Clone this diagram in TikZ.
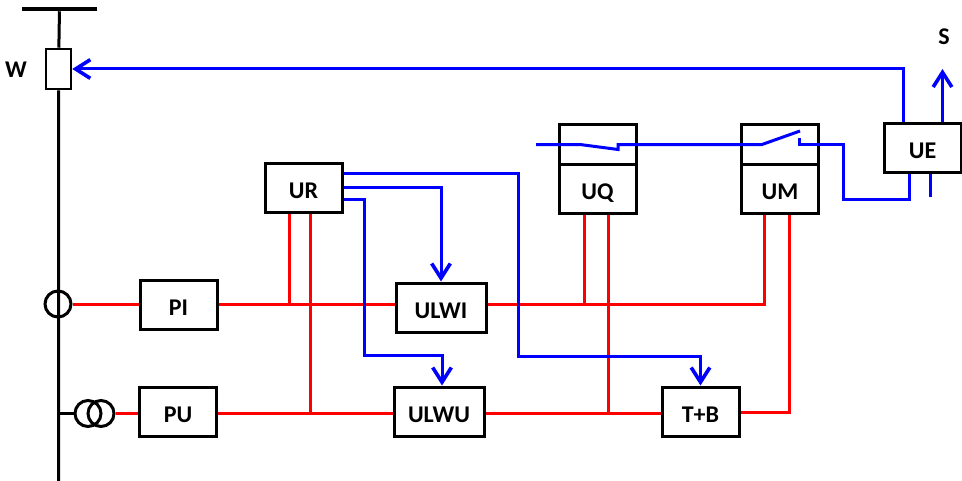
\documentclass[tikz,border=0pt]{standalone}
\usepackage{fontspec}
\setmainfont{Carlito}
\usetikzlibrary{arrows.meta,positioning}

\begin{document}
\begin{tikzpicture}[x=0.75pt, y=-0.75pt, font=\fontsize{18}{20}\selectfont\bfseries,
>={Straight Barb[length=11pt,width=14pt,line width=2.7pt]},
block/.style={draw, line width=2.25pt, minimum width=57.75pt, minimum height=36.75pt, inner sep=0pt, text height=16pt, text depth=0pt},
wideblock/.style={block, minimum width=67.5pt},
ring/.style={circle, draw, line width=2.25pt, minimum size=19.5pt, inner sep=0pt},
power/.style={line width=2.25pt},
meas/.style={line width=2.25pt, red, line join=miter},
ctrl/.style={line width=2.25pt, blue, line join=miter}]
  \useasboundingbox (0,0) rectangle (962,481);
  \node[fill, minimum width=56.25pt, minimum height=3pt, inner sep=0pt] (BUS) at (59.5,9) {};
  \node[draw, line width=1.9pt, minimum width=18.75pt, minimum height=30pt, inner sep=0pt] (W) at (58.5,69) {};
  \node (Wlabel) at (16,70) {W};
  \node[ring] (CT) at (58,304) {};
  \node[ring] (VT1) at (88,413.5) {};
  \node[ring] (VT2) at (101,413.5) {};
  \coordinate (END) at (58.5,481);
  \coordinate (TAP) at (58.5,413.5);
  \node[block] (PI) at (178.5,304.5) {PI};
  \node[block] (PU) at (178,412) {PU};
  \node[block] (UR) at (303.5,187.5) {UR};
  \node[wideblock] (ULWI) at (441,307.5) {ULWI};
  \node[wideblock] (ULWU) at (439,411.5) {ULWU};
  \node[block] (TB) at (700.5,411.5) {T+B};
  \node[block, minimum height=29.25pt] (UQs) at (597.5,144.5) {};
  \node[block] (UQ) at (597.5,188.5) {UQ};
  \node[block, minimum height=29.25pt] (UMs) at (780,144.5) {};
  \node[block] (UM) at (780,188.5) {UM};
  \node[block] (UE) at (922.5,148) {UE};
  \node (S) at (944,37) {S};
  % busbar and feeder
  \draw[power] (BUS) -- (W) -- (END);
  \draw[power, line width=1.8pt] (TAP) -- (VT1);
  % red circuits
  \coordinate (a1) at (289,304);
  \coordinate (a2) at (310,413);
  \coordinate (a3) at (584.5,304);
  \coordinate (a4) at (608.5,413);
  \coordinate (a5) at (764.5,304);
  \coordinate (a6) at (789.5,412.5);
  \draw[meas] (CT) -- (PI.west |- CT);
  \draw[meas] (PI.east |- a1) -- (ULWI.west |- a1);
  \draw[meas] (ULWI.east |- a1) -- (a5) -- (UM.south -| a5);
  \draw[meas] (UR.south -| a1) -- (a1);
  \draw[meas] (UQ.south -| a3) -- (a3);
  \draw[meas] (VT2) -- (PU.west |- VT2);
  \draw[meas] (PU.east |- a2) -- (ULWU.west |- a2);
  \draw[meas] (ULWU.east |- a4) -- (TB.west |- a4);
  \draw[meas] (TB.east |- a6) -- (a6) -- (UM.south -| a6);
  \draw[meas] (UR.south -| a2) -- (a2);
  \draw[meas] (UQ.south -| a4) -- (a4);
  % blue circuits
  \coordinate (b1) at (518.5,173);
  \coordinate (b2) at (518.5,356);
  \coordinate (b3) at (441,187);
  \coordinate (b4) at (364.5,199.5);
  \coordinate (b5) at (364.5,355);
  \coordinate (b6) at (700.5,356);
  \coordinate (b7) at (442,355);
  \draw[ctrl, ->] (UR.east |- b1) -- (b1) -- (b2) -- (b6) -- (TB.north -| b6);
  \draw[ctrl, ->] (UR.east |- b3) -- (b3) -- (ULWI.north -| b3);
  \draw[ctrl, ->] (UR.east |- b4) -- (b4) -- (b5) -- (b7) -- (ULWU.north -| b7);
  \coordinate (c1) at (903.5,69);
  \coordinate (c2) at (942.5,69);
  \draw[ctrl, ->] (UE.north -| c1) -- (c1) -- (W.east |- c1);
  \draw[ctrl, ->] (UE.north -| c2) -- (c2);
  % contacts
  \coordinate (d1) at (536,144.5);
  \coordinate (d2) at (580,144.5);
  \coordinate (d3) at (618,149.5);
  \coordinate (d4) at (618,144.5);
  \coordinate (d5) at (762,144.5);
  \coordinate (d6) at (800,131);
  \coordinate (d7) at (799.5,138);
  \coordinate (d8) at (799.5,144.5);
  \coordinate (d9) at (843.5,144.5);
  \coordinate (d10) at (843.5,199);
  \coordinate (d11) at (909.5,199);
  \coordinate (d12) at (930.5,197);
  \draw[ctrl] (d1) -- (d2) -- (d3) -- (d4) -- (d5) -- (d6);
  \draw[ctrl] (d7) -- (d8) -- (d9) -- (d10) -- (d11) -- (UE.south -| d11);
  \draw[ctrl] (UE.south -| d12) -- (d12);
\end{tikzpicture}
\end{document}
